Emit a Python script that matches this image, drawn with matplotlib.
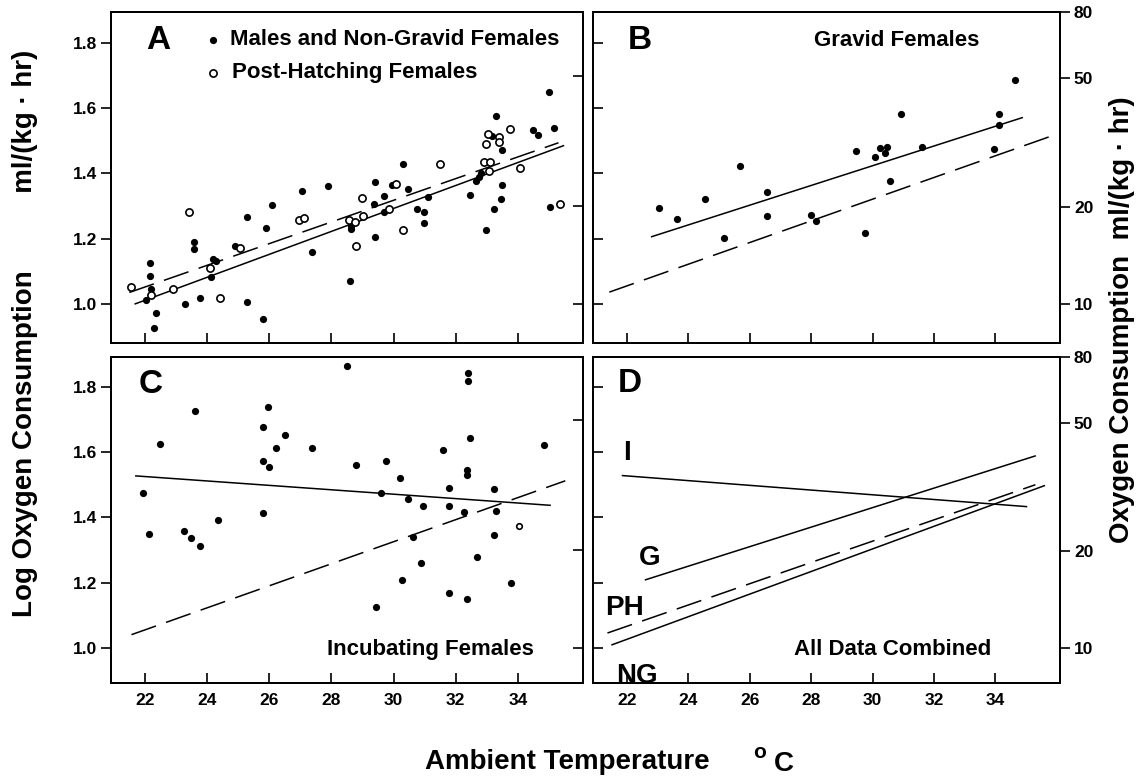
import matplotlib
matplotlib.use("Agg")
import matplotlib.pyplot as plt
import numpy as np

plt.rcParams['font.family'] = ['Liberation Sans', 'DejaVu Sans']
plt.rcParams['font.weight'] = 'bold'

# ---------------- data ----------------
x_ticks = [22, 24, 26, 28, 30, 32, 34]
y_ticks = [1.0, 1.2, 1.4, 1.6, 1.8]
y_tick_labels = ['1.0', '1.2', '1.4', '1.6', '1.8']
right_tick_values = [10, 20, 50, 80]

# Panel A: males and non-gravid females (filled)
a_ng_x = [22.16, 22.16, 22.19, 22.03, 22.35, 22.27, 23.29, 23.58, 23.58, 23.77,
          24.12, 24.18, 24.29, 24.88, 25.28, 25.29, 25.81, 25.89, 26.09, 27.06,
          27.37, 27.90, 28.60, 28.62, 28.64, 29.40, 29.38, 29.40, 29.68, 29.68,
          29.96, 30.30, 30.48, 30.77, 30.99, 30.99, 31.11, 32.47, 32.66, 32.75,
          32.81, 32.98, 33.25, 33.29, 33.16, 33.48, 33.48, 33.46, 34.50, 34.64,
          34.99, 35.17, 35.04]
a_ng_y = [1.126, 1.086, 1.047, 1.012, 0.973, 0.926, 1.000, 1.191, 1.167, 1.019,
          1.081, 1.137, 1.130, 1.178, 1.267, 1.007, 0.953, 1.234, 1.303, 1.346,
          1.160, 1.362, 1.071, 1.229, 1.240, 1.375, 1.306, 1.204, 1.331, 1.283,
          1.366, 1.429, 1.353, 1.290, 1.281, 1.247, 1.327, 1.333, 1.377, 1.390,
          1.400, 1.226, 1.292, 1.577, 1.514, 1.472, 1.366, 1.321, 1.533, 1.517,
          1.650, 1.538, 1.296]
# Panel A: post-hatching females (open)
a_ph_x = [21.55, 22.19, 22.91, 23.41, 24.09, 24.42, 25.06, 26.95, 27.11, 28.55,
          28.76, 28.80, 28.99, 29.03, 29.85, 30.08, 30.29, 31.50, 32.90, 33.09,
          33.07, 32.98, 33.05, 33.39, 33.41, 33.76, 34.08, 35.37]
a_ph_y = [1.053, 1.027, 1.047, 1.281, 1.111, 1.019, 1.172, 1.257, 1.262, 1.257,
          1.250, 1.178, 1.324, 1.269, 1.290, 1.369, 1.226, 1.429, 1.434, 1.434,
          1.407, 1.490, 1.521, 1.512, 1.497, 1.536, 1.417, 1.305]

# Panel B: gravid females
b_x = [23.05, 23.65, 24.54, 25.15, 25.69, 26.56, 26.56, 27.99, 28.17, 29.47,
       29.74, 30.07, 30.25, 30.47, 30.42, 30.58, 30.91, 31.60, 33.96, 34.10,
       34.10, 34.62]
b_y = [1.295, 1.260, 1.323, 1.203, 1.422, 1.342, 1.269, 1.274, 1.255, 1.468,
       1.217, 1.449, 1.477, 1.482, 1.462, 1.376, 1.582, 1.481, 1.474, 1.581,
       1.550, 1.688]

# Panel C: incubating females
c_x = [21.93, 22.13, 22.49, 23.26, 23.47, 23.60, 23.76, 24.35, 25.78, 25.80,
       25.79, 25.95, 25.98, 26.21, 26.49, 27.38, 28.49, 28.78, 29.45, 29.59,
       29.77, 30.21, 30.27, 30.47, 30.64, 30.88, 30.96, 31.58, 31.78, 31.78,
       31.78, 32.27, 32.36, 32.39, 32.39, 32.37, 32.37, 32.46, 32.69, 33.23,
       33.31, 33.23, 33.78, 34.85]
c_y = [1.475, 1.349, 1.624, 1.359, 1.336, 1.726, 1.313, 1.392, 1.413, 1.678,
       1.574, 1.737, 1.555, 1.612, 1.653, 1.613, 1.863, 1.561, 1.127, 1.474,
       1.574, 1.520, 1.208, 1.457, 1.340, 1.260, 1.434, 1.605, 1.490, 1.435,
       1.170, 1.416, 1.150, 1.843, 1.817, 1.546, 1.529, 1.644, 1.279, 1.486,
       1.421, 1.346, 1.200, 1.622]
c_open_x = [34.05]
c_open_y = [1.375]

# Regression lines (end points)
line_ng_x = [21.68, 35.47]; line_ng_y = [1.000, 1.485]      # NG, panel A
line_ph_x = [21.49, 35.31]; line_ph_y = [1.035, 1.494]      # PH, panel A
line_g_x = [22.81, 34.87];  line_g_y = [1.206, 1.571]       # G, panel B
line_b_dash_x = [21.43, 35.77]; line_b_dash_y = [1.036, 1.513]
line_i_x = [21.70, 35.04];  line_i_y = [1.527, 1.437]       # I, panel C
line_c_dash_x = [21.56, 35.53]; line_c_dash_y = [1.041, 1.512]
# Panel D (all data combined)
d_i_x = [21.86, 35.01];  d_i_y = [1.528, 1.433]
d_g_x = [22.61, 35.29];  d_g_y = [1.209, 1.588]
d_ph_x = [21.37, 35.30]; d_ph_y = [1.046, 1.500]
d_ng_x = [21.52, 35.59]; d_ng_y = [1.010, 1.497]

# ---------------- figure ----------------
W, H = 1143, 778
fig = plt.figure(figsize=(W / 100, H / 100), dpi=100)

def px_axes(l, t, r, b):
    return fig.add_axes([l / W, 1 - b / H, (r - l) / W, (b - t) / H])

axA = px_axes(111, 12, 583, 343)
axB = px_axes(593, 12, 1060, 343)
axC = px_axes(111, 357, 583, 683)
axD = px_axes(593, 357, 1060, 683)

XLIM = (20.9, 36.1)
YLIM_TOP = (0.88, 1.895)
YLIM_BOT = (0.893, 1.891)
DASH = (0, (17, 7))
LW = 1.1
TICKFS = 12.5

def style(ax, ylim, left_labels, bottom_labels, right_labels):
    ax.set_xlim(*XLIM)
    ax.set_ylim(*ylim)
    for s in ax.spines.values():
        s.set_linewidth(1.4)
    ax.set_xticks(x_ticks)
    ax.set_xticklabels([str(v) for v in x_ticks])
    ax.set_yticks(y_ticks)
    ax.set_yticklabels(y_tick_labels)
    ax.tick_params(axis='x', direction='in', length=7, width=1.2,
                   labelbottom=bottom_labels, labelsize=TICKFS, pad=7)
    ax.tick_params(axis='y', direction='out' if left_labels else 'in',
                   length=7, width=1.2, labelleft=left_labels,
                   labelsize=TICKFS, pad=3)
    tw = ax.twinx()
    tw.set_ylim(*ylim)
    if right_labels:
        vals = right_tick_values
    else:
        vals = right_tick_values[:3]
    tw.set_yticks(np.log10(vals))
    tw.set_yticklabels([str(v) for v in vals])
    tw.tick_params(axis='y', direction='out' if right_labels else 'in',
                   length=7, width=1.2, labelright=right_labels,
                   labelsize=TICKFS, pad=3)
    for s in tw.spines.values():
        s.set_linewidth(1.4)
    return tw

style(axA, YLIM_TOP, True, False, False)
style(axB, YLIM_TOP, False, False, True)
style(axC, YLIM_BOT, True, True, False)
style(axD, YLIM_BOT, False, True, True)

MS = 5.2
# Panel A
axA.plot(line_ng_x, line_ng_y, color='black', lw=LW)
axA.plot(line_ph_x, line_ph_y, color='black', lw=LW, ls=DASH)
axA.plot(a_ng_x, a_ng_y, 'o', color='black', ms=MS, mew=0)
axA.plot(a_ph_x, a_ph_y, 'o', mfc='white', mec='black', ms=MS, mew=1.2)
axA.text(22.43, 1.808, 'A', fontsize=24, fontweight='bold', ha='center', va='center')
axA.plot([24.2], [1.81], 'o', color='black', ms=MS, mew=0)
axA.text(24.74, 1.81, 'Males and Non-Gravid Females', fontsize=16,
         fontweight='bold', ha='left', va='center')
axA.plot([24.2], [1.708], 'o', mfc='white', mec='black', ms=MS, mew=1.2)
axA.text(24.79, 1.708, 'Post-Hatching Females', fontsize=16,
         fontweight='bold', ha='left', va='center')

# Panel B
axB.plot(line_g_x, line_g_y, color='black', lw=LW)
axB.plot(line_b_dash_x, line_b_dash_y, color='black', lw=LW, ls=DASH)
axB.plot(b_x, b_y, 'o', color='black', ms=MS, mew=0)
axB.text(22.43, 1.808, 'B', fontsize=24, fontweight='bold', ha='center', va='center')
axB.text(30.77, 1.808, 'Gravid Females', fontsize=16, fontweight='bold',
         ha='center', va='center')

# Panel C
axC.plot(line_i_x, line_i_y, color='black', lw=LW)
axC.plot(line_c_dash_x, line_c_dash_y, color='black', lw=LW, ls=DASH)
axC.plot(c_x, c_y, 'o', color='black', ms=MS, mew=0)
axC.plot(c_open_x, c_open_y, 'o', mfc='white', mec='black', ms=4, mew=1.2)
axC.text(22.16, 1.808, 'C', fontsize=24, fontweight='bold', ha='center', va='center')
axC.text(31.18, 0.995, 'Incubating Females', fontsize=16, fontweight='bold',
         ha='center', va='center')

# Panel D
axD.plot(d_i_x, d_i_y, color='black', lw=LW)
axD.plot(d_g_x, d_g_y, color='black', lw=LW)
axD.plot(d_ph_x, d_ph_y, color='black', lw=LW, ls=DASH)
axD.plot(d_ng_x, d_ng_y, color='black', lw=LW)
axD.text(22.1, 1.811, 'D', fontsize=24, fontweight='bold', ha='center', va='center')
axD.text(22.0, 1.598, 'I', fontsize=20, fontweight='bold', ha='center', va='center')
axD.text(22.73, 1.277, 'G', fontsize=20, fontweight='bold', ha='center', va='center')
axD.text(21.91, 1.124, 'PH', fontsize=20, fontweight='bold', ha='center', va='center')
axD.text(22.34, 0.915, 'NG', fontsize=20, fontweight='bold', ha='center', va='center')
axD.text(30.66, 0.995, 'All Data Combined', fontsize=16, fontweight='bold',
         ha='center', va='center')

# Axis titles
fig.text(25 / W, 1 - 333 / H, 'Log Oxygen Consumption          ml/(kg \u00b7 hr)',
         rotation=90, fontsize=20, fontweight='bold', ha='center', va='center')
fig.text(1122 / W, 1 - 320 / H, 'Oxygen Consumption  ml/(kg \u00b7 hr)',
         rotation=90, fontsize=20, fontweight='bold', ha='center', va='center')
fig.text(567 / W, 1 - 762 / H, 'Ambient Temperature', fontsize=20,
         fontweight='bold', ha='center', va='center')
fig.text(760 / W, 1 - 752 / H, 'o', fontsize=15, fontweight='bold',
         ha='center', va='center')
fig.text(784 / W, 1 - 764 / H, 'C', fontsize=20, fontweight='bold',
         ha='center', va='center')

fig.savefig('out.png', dpi=100, facecolor='white')
